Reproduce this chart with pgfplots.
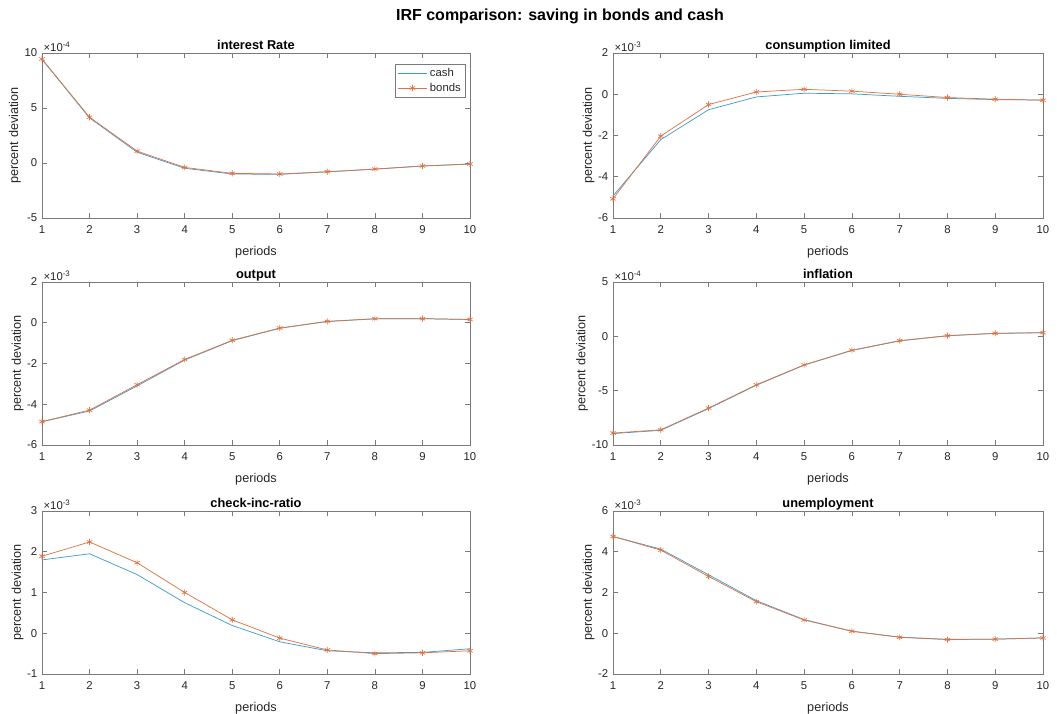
\documentclass[border=0pt]{standalone}
\usepackage{fontspec}
\setmainfont{Liberation Sans}
\usepackage{pgfplots}
\usepackage{pgfplotstable}
\pgfplotsset{compat=1.18}

\definecolor{cashc}{HTML}{3F9DCB}
\definecolor{bondc}{HTML}{DD7446}
\definecolor{axc}{HTML}{7A7A7A}
\definecolor{txc}{HTML}{262626}

% impulse responses: period, cash, bonds
\pgfplotstableread{
t cash bonds
1 9.42e-4 9.45e-4
2 4.10e-4 4.16e-4
3 0.98e-4 1.08e-4
4 -0.48e-4 -0.40e-4
5 -1.00e-4 -0.94e-4
6 -1.03e-4 -1.00e-4
7 -0.81e-4 -0.79e-4
8 -0.56e-4 -0.55e-4
9 -0.28e-4 -0.27e-4
10 -0.10e-4 -0.09e-4
}\irate
\pgfplotstableread{
t cash bonds
1 -4.93e-3 -5.07e-3
2 -2.20e-3 -2.03e-3
3 -0.75e-3 -0.50e-3
4 -0.13e-3 0.11e-3
5 0.05e-3 0.24e-3
6 0.02e-3 0.15e-3
7 -0.10e-3 0.00e-3
8 -0.20e-3 -0.16e-3
9 -0.26e-3 -0.24e-3
10 -0.28e-3 -0.29e-3
}\consum
\pgfplotstableread{
t cash bonds
1 -4.86e-3 -4.85e-3
2 -4.33e-3 -4.29e-3
3 -3.10e-3 -3.04e-3
4 -1.83e-3 -1.80e-3
5 -0.88e-3 -0.86e-3
6 -0.27e-3 -0.26e-3
7 0.06e-3 0.07e-3
8 0.19e-3 0.20e-3
9 0.20e-3 0.20e-3
10 0.16e-3 0.16e-3
}\outp
\pgfplotstableread{
t cash bonds
1 -8.95e-4 -8.90e-4
2 -8.65e-4 -8.60e-4
3 -6.65e-4 -6.60e-4
4 -4.50e-4 -4.46e-4
5 -2.65e-4 -2.63e-4
6 -1.30e-4 -1.28e-4
7 -0.42e-4 -0.40e-4
8 0.05e-4 0.06e-4
9 0.27e-4 0.28e-4
10 0.33e-4 0.34e-4
}\infl
\pgfplotstableread{
t cash bonds
1 1.80e-3 1.89e-3
2 1.95e-3 2.24e-3
3 1.44e-3 1.73e-3
4 0.75e-3 1.00e-3
5 0.19e-3 0.33e-3
6 -0.21e-3 -0.12e-3
7 -0.43e-3 -0.41e-3
8 -0.48e-3 -0.50e-3
9 -0.47e-3 -0.48e-3
10 -0.38e-3 -0.43e-3
}\check
\pgfplotstableread{
t cash bonds
1 4.75e-3 4.75e-3
2 4.13e-3 4.08e-3
3 2.87e-3 2.79e-3
4 1.60e-3 1.55e-3
5 0.67e-3 0.65e-3
6 0.10e-3 0.10e-3
7 -0.19e-3 -0.20e-3
8 -0.30e-3 -0.31e-3
9 -0.29e-3 -0.29e-3
10 -0.23e-3 -0.23e-3
}\unemp

\pgfplotsset{
  irf/.style={
    scale only axis,
    anchor=south west,
    xmin=1, xmax=10, xtick={1,...,10},
    tick align=inside, tick pos=both,
    major tick length=3.5pt,
    axis line style={axc, line width=0.5pt},
    every tick/.style={axc, line width=0.5pt},
    tick label style={font=\fontsize{8.5}{10}\selectfont, text=txc},
    /pgf/number format/assume math mode=true,
    xticklabel style={yshift=-2pt},
    label style={font=\fontsize{9.5}{11}\selectfont, text=txc},
    xlabel style={yshift=-3pt},
    ylabel style={yshift=-4pt},
    every axis title shift=0pt,
    title style={at={(axis description cs:0.5,1)}, anchor=base, yshift=2.5pt,
      font=\fontsize{9.6}{11}\selectfont\bfseries, text=black},
    xlabel={periods}, ylabel={percent deviation},
    every y tick scale label/.style={at={(axis description cs:0,1)}, anchor=south west, inner sep=1pt, text=txc},
    clip=false,
  },
  % power of ten shared by the tick labels of one panel
  expo/.style={
    scaled y ticks=base 10:#1,
    ytick scale label code/.code={\fontsize{8.5}{10}\selectfont ×10\textsuperscript{-#1}},
  },
  cashline/.style={cashc, line width=0.55pt, no markers},
  bondline/.style={bondc, line width=0.55pt, mark=asterisk, mark size=2.3pt, mark options={line width=0.5pt}},
}

\begin{document}
\begin{tikzpicture}
\path[use as bounding box] (0,0) rectangle (792.75pt,535.5pt);
\node[font=\fontsize{12}{14}\selectfont\bfseries, text=black] at (420pt,523pt) {IRF comparison: saving in bonds and cash};

% interest rate
\begin{axis}[irf, at={(31.5pt,372pt)}, width=321pt, height=123.75pt,
  title={interest Rate},
  ymin=-5e-4, ymax=10e-4, ytick={-5e-4,0,5e-4,10e-4}, expo=4,
  legend style={at={(0.99,0.935)}, anchor=north east, draw=axc, line width=0.4pt,
    font=\fontsize{8.5}{10}\selectfont, text=txc, inner sep=1.5pt, row sep=-1pt},
  legend cell align=left,
  legend image code/.code={\draw[mark repeat=2, mark phase=2, #1] plot coordinates {(0cm,0cm) (0.38cm,0cm) (0.76cm,0cm)};},
]
\addplot[cashline] table[x=t, y=cash] {\irate};
\addplot[bondline] table[x=t, y=bonds] {\irate};
\legend{cash, bonds}
\end{axis}

% consumption limited
\begin{axis}[irf, at={(459.75pt,372pt)}, width=322.5pt, height=123.75pt,
  title={consumption limited},
  ymin=-6e-3, ymax=2e-3, ytick={-6e-3,-4e-3,-2e-3,0,2e-3}, expo=3,
]
\addplot[cashline] table[x=t, y=cash] {\consum};
\addplot[bondline] table[x=t, y=bonds] {\consum};
\end{axis}

% output
\begin{axis}[irf, at={(31.5pt,201.75pt)}, width=321pt, height=122.25pt,
  title={output},
  ymin=-6e-3, ymax=2e-3, ytick={-6e-3,-4e-3,-2e-3,0,2e-3}, expo=3,
]
\addplot[cashline] table[x=t, y=cash] {\outp};
\addplot[bondline] table[x=t, y=bonds] {\outp};
\end{axis}

% inflation
\begin{axis}[irf, at={(459.75pt,201.75pt)}, width=322.5pt, height=122.25pt,
  title={inflation},
  ymin=-10e-4, ymax=5e-4, ytick={-10e-4,-5e-4,0,5e-4}, expo=4,
]
\addplot[cashline] table[x=t, y=cash] {\infl};
\addplot[bondline] table[x=t, y=bonds] {\infl};
\end{axis}

% check-inc-ratio
\begin{axis}[irf, at={(31.5pt,30pt)}, width=321pt, height=122.25pt,
  title={check-inc-ratio},
  ymin=-1e-3, ymax=3e-3, ytick={-1e-3,0,1e-3,2e-3,3e-3}, expo=3,
]
\addplot[cashline] table[x=t, y=cash] {\check};
\addplot[bondline] table[x=t, y=bonds] {\check};
\end{axis}

% unemployment
\begin{axis}[irf, at={(459.75pt,30pt)}, width=322.5pt, height=122.25pt,
  title={unemployment},
  ymin=-2e-3, ymax=6e-3, ytick={-2e-3,0,2e-3,4e-3,6e-3}, expo=3,
]
\addplot[cashline] table[x=t, y=cash] {\unemp};
\addplot[bondline] table[x=t, y=bonds] {\unemp};
\end{axis}
\end{tikzpicture}
\end{document}
